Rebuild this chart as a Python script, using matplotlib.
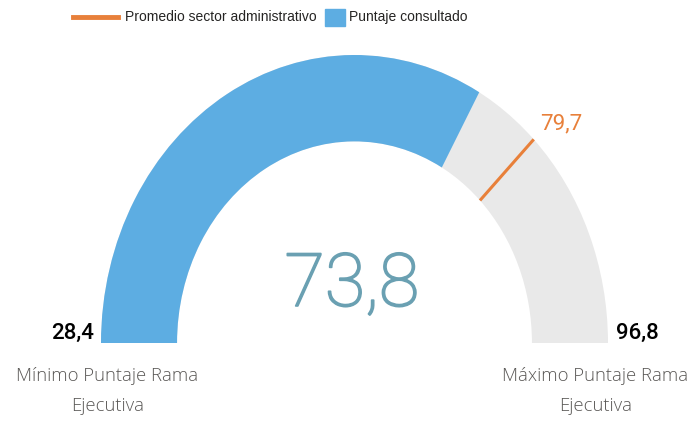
import matplotlib.pyplot as plt
import matplotlib.patheffects as pe
from matplotlib.patches import Wedge, Rectangle
from matplotlib.lines import Line2D
import numpy as np

# gauge values
minimo = 28.4
maximo = 96.8
puntaje = 73.8
promedio = 79.7
min_label = "Mínimo Puntaje Rama\nEjecutiva"
max_label = "Máximo Puntaje Rama\nEjecutiva"
legend_labels = ["Promedio sector administrativo", "Puntaje consultado"]

blue = "#5DADE2"
grey = "#E9E9E9"
orange = "#E8803A"
teal = "#6AA0B2"
narrow = ["Liberation Sans Narrow", "Liberation Sans"]


def fmt(v):
    return f"{v:.1f}".replace(".", ",")


def ang(v):
    return 180 - 180 * (v - minimo) / (maximo - minimo)


W, H = 692, 424
fig = plt.figure(figsize=(W / 100, H / 100), dpi=100)
ax = fig.add_axes([0, 0, 1, 1])
# 1 unit = 253.5 px wide, 288 px tall (the gauge is stretched)
ax.set_xlim(-354.5 / 253.5, (W - 354.5) / 253.5)
ax.set_ylim(-81 / 288, (H - 81) / 288)
ax.axis("off")

ax.add_patch(Wedge((0, 0), 1, 0, 180, width=0.3, color=grey, lw=0))
ax.add_patch(Wedge((0, 0), 1, ang(puntaje), 180, width=0.3, color=blue, lw=0))

t = np.radians(ang(promedio))
ax.plot([0.7 * np.cos(t), np.cos(t)], [0.7 * np.sin(t), np.sin(t)],
        color=orange, lw=2.2, solid_capstyle="butt")
ax.text(0.732, 0.76, fmt(promedio), color=orange, fontsize=16,
        family=["Roboto"], ha="left", va="center")

ax.text(-0.01, 0.2, fmt(puntaje), color=teal, fontsize=53, family=["Roboto"],
        fontweight="light", ha="center", va="center",
        path_effects=[pe.withStroke(linewidth=1.3, foreground=teal)])

ax.text(-1.028, 0.035, fmt(minimo), color="black", fontsize=16,
        family=["Roboto"], fontweight="medium", ha="right", va="center")
ax.text(1.03, 0.035, fmt(maximo), color="black", fontsize=16,
        family=["Roboto"], fontweight="medium", ha="left", va="center")

ax.text(-0.975, -0.167, min_label, color="#5A5856", fontsize=13.3, family=["Open Sans"],
        fontweight="light", ha="center", va="center", linespacing=1.85)
ax.text(0.95, -0.167, max_label, color="#5A5856", fontsize=13.3, family=["Open Sans"],
        fontweight="light", ha="center", va="center", linespacing=1.85)

# legend drawn by hand to keep the two different handle sizes
yl = 1 - 17 / H
fig.add_artist(Line2D([73 / W, 118 / W], [yl, yl], color=orange, lw=3.5,
                      transform=fig.transFigure))
fig.text(125 / W, yl, legend_labels[0], color="#252423", fontsize=10, family=narrow,
         ha="left", va="center")
fig.add_artist(Rectangle((325 / W, 1 - 26 / H), 20 / W, 17 / H, color=blue,
                         transform=fig.transFigure))
fig.text(349 / W, yl, legend_labels[1], color="#252423", fontsize=10, family=narrow,
         ha="left", va="center")

fig.savefig("out.png", dpi=100)
